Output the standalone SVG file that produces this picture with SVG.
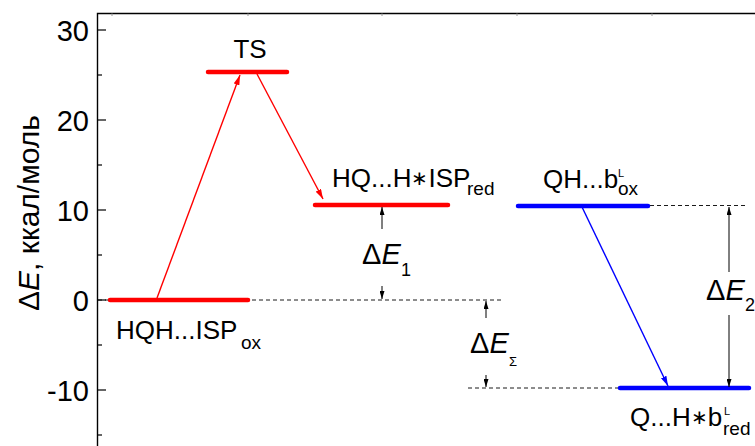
<svg xmlns="http://www.w3.org/2000/svg" width="755" height="446" viewBox="0 0 755 446">
  <defs>
    <style>
      .t { font-family: "Liberation Sans", Arial, sans-serif; fill: #000; }
      .frame { stroke: #000; stroke-width: 1.4; fill: none; }
      .tick { stroke: #000; stroke-width: 1.2; }
      .ftick { stroke: #999; stroke-width: 1; }
      .lvl-r { stroke: #ff0000; stroke-width: 4.5; stroke-linecap: round; }
      .lvl-b { stroke: #0000ff; stroke-width: 4.5; stroke-linecap: round; }
      .dash { stroke: #000; stroke-width: 0.9; stroke-dasharray: 4 3; fill: none; }
      .ar-r { stroke: #ff0000; stroke-width: 1.4; marker-end: url(#hr); }
      .ar-b { stroke: #0000ff; stroke-width: 1.4; marker-end: url(#hb); }
      .ar-k { stroke: #000; stroke-width: 1; marker-end: url(#hk); }
    </style>
    <marker id="hr" viewBox="0 0 10 6" refX="10" refY="3" markerWidth="10" markerHeight="6" markerUnits="userSpaceOnUse" orient="auto">
      <path d="M0,0 L10,3 L0,6 z" fill="#ff0000"/>
    </marker>
    <marker id="hb" viewBox="0 0 10 6" refX="10" refY="3" markerWidth="10" markerHeight="6" markerUnits="userSpaceOnUse" orient="auto">
      <path d="M0,0 L10,3 L0,6 z" fill="#0000ff"/>
    </marker>
    <marker id="hk" viewBox="0 0 8 5" refX="8" refY="2.5" markerWidth="8" markerHeight="5" markerUnits="userSpaceOnUse" orient="auto">
      <path d="M0,0 L8,2.5 L0,5 z" fill="#000"/>
    </marker>
  </defs>

  <rect width="755" height="446" fill="#fff"/>

  <!-- plot frame and y axis -->
  <g id="axis">
    <path class="frame" d="M97.5,446 V13.5 H755"/>
    <g class="ftick">
      <line x1="112" y1="13.5" x2="112" y2="16"/>
      <line x1="248" y1="13.5" x2="248" y2="16"/>
      <line x1="382" y1="13.5" x2="382" y2="16"/>
      <line x1="517" y1="13.5" x2="517" y2="16"/>
      <line x1="652" y1="13.5" x2="652" y2="16"/>
    </g>
    <g class="tick">
      <line x1="97.5" y1="30" x2="106" y2="30"/>
      <line x1="97.5" y1="120" x2="106" y2="120"/>
      <line x1="97.5" y1="210" x2="106" y2="210"/>
      <line x1="97.5" y1="300" x2="106" y2="300"/>
      <line x1="97.5" y1="390" x2="106" y2="390"/>
      <line x1="97.5" y1="75" x2="102" y2="75"/>
      <line x1="97.5" y1="165" x2="102" y2="165"/>
      <line x1="97.5" y1="255" x2="102" y2="255"/>
      <line x1="97.5" y1="345" x2="102" y2="345"/>
      <line x1="97.5" y1="435" x2="102" y2="435"/>
    </g>
    <g class="t" font-size="29" text-anchor="end">
      <text x="89" y="40.5">30</text>
      <text x="89" y="130.5">20</text>
      <text x="89" y="220.5">10</text>
      <text x="89" y="310.5">0</text>
      <text x="89" y="400.5">-10</text>
    </g>
    <text class="t" font-size="30" text-anchor="middle" transform="translate(39,213) rotate(-90)">Δ<tspan font-style="italic">E</tspan>, ккал/моль</text>
  </g>

  <!-- guide lines -->
  <g id="guides">
    <line class="dash" x1="98" y1="300" x2="502" y2="300"/>
    <line class="dash" x1="650" y1="205.5" x2="748" y2="205.5"/>
    <line class="dash" x1="468" y1="388" x2="620" y2="388"/>
  </g>

  <!-- energy levels -->
  <g id="hqh-isp-ox">
    <line class="lvl-r" x1="110" y1="300" x2="248" y2="300"/>
    <text class="t" font-size="26" x="116" y="339">HQH...ISP</text>
    <text class="t" font-size="19" x="241" y="349">ox</text>
  </g>
  <g id="ts">
    <line class="lvl-r" x1="208" y1="72" x2="287" y2="72"/>
    <text class="t" font-size="26" x="250" y="58" text-anchor="middle">TS</text>
  </g>
  <g id="hq-h-isp-red">
    <line class="lvl-r" x1="315" y1="205" x2="448" y2="205"/>
    <text class="t" font-size="26" x="332" y="187">HQ...H<tspan font-size="20" dy="-2">∗</tspan><tspan dy="2">ISP</tspan></text>
    <text class="t" font-size="19" x="467" y="195">red</text>
  </g>
  <g id="qh-b-ox">
    <line class="lvl-b" x1="518" y1="206" x2="648" y2="206"/>
    <text class="t" font-size="26" x="543" y="188">QH...b</text>
    <text class="t" font-size="11" x="618" y="177">L</text>
    <text class="t" font-size="19" x="618" y="195">ox</text>
  </g>
  <g id="q-h-b-red">
    <line class="lvl-b" x1="620" y1="388" x2="749" y2="388"/>
    <text class="t" font-size="26" x="630" y="426">Q...H<tspan font-size="20" dy="-2">∗</tspan><tspan dy="2">b</tspan></text>
    <text class="t" font-size="11" x="724" y="415">L</text>
    <text class="t" font-size="19" x="723" y="435">red</text>
  </g>

  <!-- energy differences -->
  <g id="de1">
    <text class="t" font-size="29" x="362" y="264">Δ<tspan font-style="italic">E</tspan></text>
    <text class="t" font-size="18" x="401" y="276">1</text>
  </g>
  <g id="de-sum">
    <text class="t" font-size="29" x="470" y="353">Δ<tspan font-style="italic">E</tspan></text>
    <text class="t" font-size="13" x="509" y="366">Σ</text>
  </g>
  <g id="de2">
    <text class="t" font-size="29" x="706" y="300">Δ<tspan font-style="italic">E</tspan></text>
    <text class="t" font-size="18" x="745" y="311">2</text>
  </g>

  <!-- connectors -->
  <g id="connectors">
    <line class="ar-r" x1="157" y1="298" x2="240" y2="75"/>
    <line class="ar-r" x1="257" y1="74" x2="323" y2="199"/>
    <line class="ar-b" x1="582" y1="207" x2="668" y2="386"/>
    <line class="ar-k" x1="382" y1="229" x2="382" y2="207"/>
    <line class="ar-k" x1="382" y1="286" x2="382" y2="299"/>
    <line class="ar-k" x1="486" y1="318" x2="486" y2="301"/>
    <line class="ar-k" x1="486" y1="375" x2="486" y2="387"/>
    <line class="ar-k" x1="729" y1="272" x2="729" y2="207"/>
    <line class="ar-k" x1="729" y1="315" x2="729" y2="387"/>
  </g>
</svg>
